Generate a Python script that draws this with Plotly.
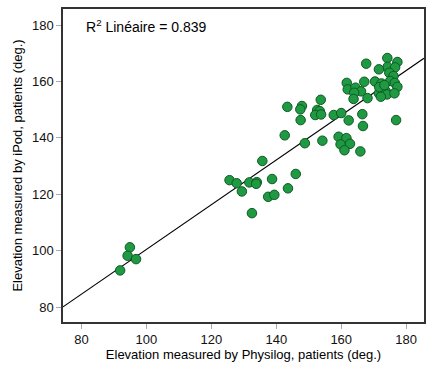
import numpy as np
import plotly.graph_objects as go

# Data (deg.)
physilog = [174.2, 177.3, 167.7, 174.3, 176.6, 171.6, 174.8, 176.1, 161.7, 167.1,
            170.4, 172.4, 175.1, 176.5, 177.3, 162.0, 164.4, 166.1, 164.0, 171.6,
            173.7, 174.1, 172.2, 176.4, 163.8, 168.1, 171.7, 173.3, 153.7, 147.9,
            147.4, 143.4, 152.6, 153.4, 152.0, 153.8, 157.7, 160.0, 166.5, 147.5,
            162.3, 166.7, 176.9, 142.6, 148.8, 154.2, 159.2, 161.6, 159.8, 162.7,
            161.0, 165.9, 135.7, 125.6, 127.8, 131.7, 134.0, 133.8, 138.7, 146.0,
            129.4, 143.6, 137.5, 139.4, 132.5, 94.9, 94.2, 96.8, 91.9]
ipod = [168.3, 166.9, 166.3, 165.2, 165.0, 164.3, 163.1, 161.9, 159.5, 159.9,
        160.0, 159.3, 160.2, 159.5, 158.1, 157.2, 157.8, 156.5, 156.0, 155.8,
        156.6, 155.4, 154.6, 155.8, 153.8, 154.1, 158.0, 158.7, 153.5, 151.3,
        150.1, 151.0, 149.9, 149.5, 148.1, 148.3, 148.1, 148.8, 148.4, 146.3,
        146.2, 144.2, 146.3, 140.9, 138.1, 139.0, 140.4, 139.9, 137.7, 137.9,
        135.6, 135.2, 131.8, 125.0, 123.9, 124.2, 124.3, 123.7, 125.4, 127.2,
        121.0, 122.1, 119.1, 119.8, 113.3, 101.2, 98.2, 97.0, 93.0]
tick_vals = [80, 100, 120, 140, 160, 180]
x_range = [74.3, 185.5]
y_range = [74.7, 185.7]
r2_text = "R<sup>2</sup> Linéaire = 0.839"

slope, intercept = np.polyfit(physilog, ipod, 1)
fit_x = np.array(x_range)
fit_y = slope * fit_x + intercept

fig = go.Figure()
fig.add_trace(go.Scatter(x=fit_x, y=fit_y, mode="lines",
                         line=dict(color="black", width=1.2),
                         hoverinfo="skip", showlegend=False))
fig.add_trace(go.Scatter(x=physilog, y=ipod, mode="markers",
                         marker=dict(size=9.5, color="#1f9a42",
                                     line=dict(color="#0e5a25", width=1)),
                         showlegend=False))

font = dict(family="Liberation Sans, Arial, sans-serif", size=12, color="black")
axis_common = dict(tickvals=tick_vals, ticks="outside", ticklen=5,
                   tickcolor="#aaaaaa", showgrid=False, zeroline=False,
                   showline=True, linecolor="#333333", linewidth=1.5,
                   mirror=True, tickfont=dict(size=13, color="#111111"))
fig.update_layout(
    width=432, height=367,
    margin=dict(l=63, r=6, t=9, b=45),
    plot_bgcolor="white", paper_bgcolor="white",
    font=font,
    xaxis=dict(range=x_range,
               title=dict(text="Elevation measured by Physilog, patients (deg.)",
                          font=dict(size=13), standoff=4),
               **axis_common),
    yaxis=dict(range=y_range,
               title=dict(text="Elevation measured by iPod, patients (deg.)",
                          font=dict(size=13), standoff=6),
               **axis_common),
    annotations=[dict(text=r2_text, xref="paper", yref="paper",
                      x=0.058, y=0.946, xanchor="left", yanchor="middle",
                      showarrow=False, font=dict(size=14, color="black"))],
)
fig.write_html("out.html", config={"displayModeBar": False},
               post_script="document.body.style.margin='0';document.body.style.overflow='hidden';")
